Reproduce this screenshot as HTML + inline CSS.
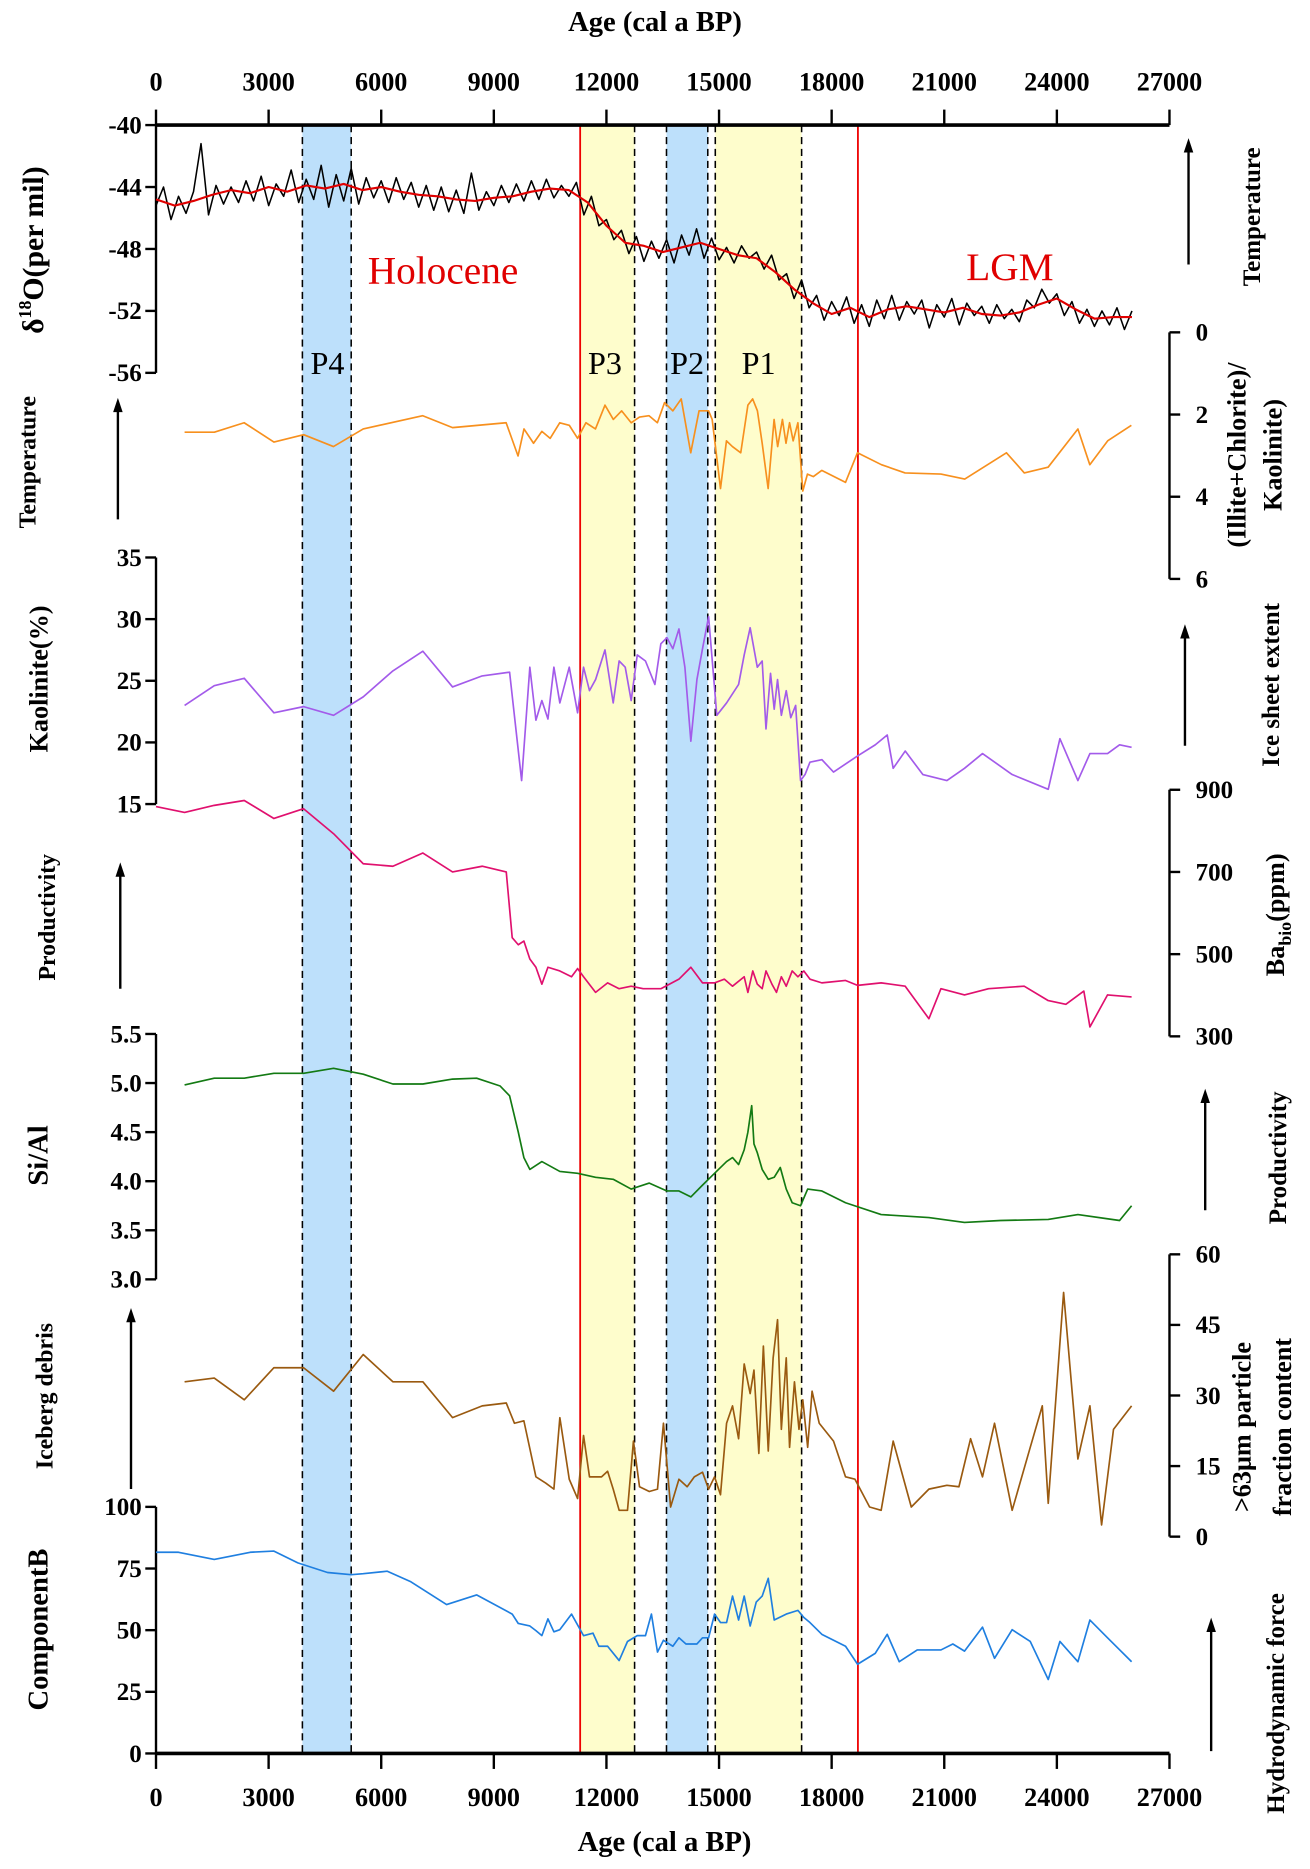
<!DOCTYPE html>
<html><head><meta charset="utf-8"><style>
html,body{margin:0;padding:0;background:#fff;}
svg{display:block;font-family:"Liberation Serif",serif;}
</style></head><body>
<svg id="chart" width="1310" height="1869" viewBox="0 0 1100 1569" preserveAspectRatio="none" xmlns="http://www.w3.org/2000/svg"></svg>
<script>
// ---- data ----
const xTicks=[0,3000,6000,9000,12000,15000,18000,21000,24000,27000];
const d18Ages=[];for(let a=0;a<=26000;a+=200)d18Ages.push(a);
const d18Raw=[-45.2,-44.0,-46.1,-44.6,-45.7,-44.3,-41.2,-45.8,-43.9,-45.1,-44.0,
-45.0,-43.6,-44.9,-43.3,-45.2,-43.8,-44.6,-42.9,-45.0,-43.5,
-44.8,-42.6,-45.3,-43.2,-44.9,-42.8,-45.1,-43.4,-44.7,-43.6,
-45.0,-43.4,-44.8,-43.7,-45.3,-43.9,-45.5,-44.0,-45.6,-44.2,
-45.7,-43.1,-45.5,-44.3,-45.2,-43.9,-45.0,-43.8,-44.9,-43.6,
-44.8,-43.5,-44.7,-43.9,-44.6,-43.7,-45.8,-44.6,-46.5,-46.1,
-47.4,-46.8,-48.3,-47.2,-48.8,-47.5,-48.6,-47.4,-48.9,-47.1,
-48.4,-46.7,-48.6,-47.3,-48.7,-47.9,-48.9,-47.8,-48.6,-48.2,
-49.3,-48.4,-50.0,-49.6,-51.2,-50.0,-51.8,-51.0,-52.6,-51.4,
-52.3,-51.1,-52.8,-51.6,-53.0,-51.3,-52.5,-51.0,-52.6,-51.4,
-52.2,-51.3,-53.1,-51.6,-52.4,-51.2,-52.9,-51.5,-52.3,-51.7,
-52.8,-51.6,-52.5,-51.9,-52.7,-51.3,-51.8,-50.6,-51.5,-50.9,
-52.3,-51.4,-52.8,-51.9,-53.0,-52.0,-52.9,-51.8,-53.2,-52.0];
const smAges=[];for(let a=0;a<=26000;a+=500)smAges.push(a);
const d18Smooth=[-44.8,-45.2,-44.9,-44.5,-44.2,-44.4,-44.0,-44.3,-43.9,-44.1,-43.8,-44.2,-44.0,-44.3,-44.5,-44.6,-44.8,-44.9,-44.7,-44.6,-44.3,-44.1,-44.2,-45.0,-46.5,-47.6,-47.8,-48.2,-47.9,-47.6,-48.0,-48.4,-48.6,-49.5,-50.6,-51.5,-52.2,-51.8,-52.4,-51.9,-51.7,-51.9,-52.1,-51.8,-52.2,-52.3,-52.1,-51.6,-51.2,-51.9,-52.5,-52.4,-52.4];

const icAges=[760,1555,2348,3141,3934,4728,5521,7107,7900,9328,9646,9804,10058,10280,10502,10756,11010,11232,11454,11708,11962,12184,12406,12660,12882,13136,13358,13548,13770,13993,14247,14469,14722,14818,15040,15198,15357,15579,15769,15896,16023,16150,16309,16468,16563,16690,16785,16880,16975,17102,17230,17356,17515,17737,18371,18689,19324,19958,20910,21545,22655,23131,23766,24559,24876,25352,25986];
const icVals=[2.43,2.43,2.2,2.67,2.49,2.78,2.35,2.03,2.32,2.2,3.01,2.35,2.7,2.41,2.58,2.2,2.26,2.58,2.2,2.35,1.77,2.12,1.91,2.2,2.06,2.03,2.2,1.71,1.91,1.62,2.93,1.91,1.91,2.12,3.8,2.64,2.78,2.93,1.77,1.62,1.91,2.7,3.8,2.12,2.78,2.12,2.7,2.2,2.64,2.2,3.86,3.45,3.51,3.36,3.65,2.93,3.22,3.42,3.45,3.57,2.93,3.42,3.28,2.35,3.22,2.64,2.26];

const kaAges=[760,1550,2350,3140,3930,4730,5520,6310,7110,7900,8690,9420,9740,9960,10120,10280,10440,10600,10760,11010,11230,11390,11550,11710,11960,12180,12340,12500,12660,12820,13040,13290,13450,13610,13770,13930,14090,14250,14410,14560,14720,14940,15200,15520,15670,15830,16020,16150,16250,16370,16470,16560,16660,16790,16910,17040,17170,17290,17420,17740,18050,18690,19160,19480,19640,19960,20430,21070,21540,22020,22810,23770,24080,24560,24880,25350,25670,25990];
const kaVals=[23.0,24.6,25.2,22.4,22.9,22.2,23.7,25.8,27.4,24.5,25.4,25.7,16.9,26.1,21.8,23.4,21.9,26.1,23.2,26.1,22.4,26.1,24.2,25.1,27.5,23.2,26.6,26.1,23.4,27.1,26.6,24.7,28.0,28.5,27.6,29.2,26.1,20.1,25.1,27.6,30.2,22.2,23.2,24.7,27.1,29.3,26.1,26.6,21.1,25.6,22.7,25.1,22.2,24.2,22.0,23.0,16.9,17.4,18.4,18.6,17.6,18.9,19.8,20.6,17.9,19.3,17.4,16.9,17.9,19.1,17.4,16.2,20.3,16.9,19.1,19.1,19.8,19.6];

const baAges=[0,760,1550,2350,3140,3930,4730,5520,6310,7110,7900,8690,9330,9490,9650,9800,9960,10120,10280,10440,10760,11070,11230,11390,11710,12030,12340,12660,12980,13450,13930,14250,14560,14880,15140,15360,15670,15770,15900,16020,16150,16250,16410,16530,16660,16790,16950,17100,17260,17420,17740,18370,18690,19320,19960,20590,20910,21540,22180,23130,23770,24240,24720,24880,25350,25990];
const baVals=[859,845,862,874,830,854,793,720,714,746,700,714,700,540,523,532,488,468,427,468,459,445,465,445,407,430,416,422,416,416,439,468,430,430,439,422,445,407,459,427,416,459,427,407,445,422,459,445,459,439,430,436,424,430,422,343,416,401,416,422,387,378,410,323,401,396];

const siAges=[760,1550,2350,3140,3930,4730,5520,6310,7110,7900,8540,9170,9420,9650,9800,9960,10280,10760,11230,11710,12180,12660,13140,13610,13930,14250,14560,14880,15200,15360,15520,15670,15770,15870,15930,16020,16150,16310,16470,16630,16790,16950,17170,17360,17740,18370,19320,20590,21540,22500,23770,24560,25670,25990];
const siVals=[4.98,5.05,5.05,5.1,5.1,5.15,5.09,4.99,4.99,5.04,5.05,4.97,4.87,4.5,4.24,4.12,4.2,4.1,4.08,4.04,4.02,3.92,3.98,3.9,3.9,3.84,3.96,4.08,4.2,4.24,4.17,4.32,4.5,4.77,4.38,4.29,4.12,4.02,4.04,4.14,3.92,3.78,3.75,3.92,3.9,3.78,3.66,3.63,3.58,3.6,3.61,3.66,3.6,3.75];

const grAges=[760,1550,2350,3140,3930,4730,5520,6310,7110,7900,8690,9330,9550,9800,10120,10380,10600,10760,11010,11230,11390,11550,11870,12030,12180,12340,12560,12720,12880,13140,13360,13520,13710,13930,14150,14340,14560,14720,14880,15040,15200,15360,15520,15670,15830,15930,16060,16180,16310,16440,16560,16660,16790,16880,17010,17130,17230,17360,17480,17670,18050,18370,18620,19010,19320,19640,20120,20590,21070,21390,21700,22020,22340,22810,23290,23610,23770,24180,24560,24880,25190,25510,25990];
const grVals=[32.9,33.7,29.1,35.9,35.9,30.9,38.7,32.9,32.9,25.3,27.8,28.4,24.1,24.6,12.7,11.4,10.1,25.3,12.2,8.1,21.5,12.7,12.7,13.9,10.1,5.6,5.6,20.3,10.6,9.6,10.1,24.1,6.3,12.2,10.6,12.7,13.7,10.1,12.7,8.9,24.1,27.8,20.8,36.7,30.4,35.4,17.7,40.5,18.2,38,46.1,22.8,38,19,32.9,22.8,29.1,19,30.9,24.1,20.3,12.7,12.2,6.3,5.6,20.3,6.3,10.1,10.9,10.6,20.8,12.7,24.1,5.6,19,27.8,7.1,51.9,16.5,27.8,2.5,22.8,27.8];

const cbAges=[0,600,1550,2510,3140,3780,4570,5200,5520,6160,6790,7740,8540,9490,9650,9960,10120,10280,10440,10600,10760,11070,11390,11640,11800,12030,12340,12560,12820,13040,13200,13360,13520,13770,13930,14120,14410,14560,14720,14880,15040,15200,15360,15520,15670,15830,15990,16150,16310,16470,16790,17100,17260,17420,17740,18370,18690,19160,19480,19800,20280,20910,21230,21540,22020,22340,22810,23290,23770,24080,24560,24880,25350,25990];
const cbVals=[81.6,81.6,78.7,81.6,82.1,77.3,73.4,72.5,72.9,73.9,69.6,60.4,64.3,56.5,52.7,51.7,49.8,47.8,54.6,49.3,50.2,56.5,47.8,48.8,43.5,43.5,37.7,45.4,47.8,47.8,56.5,41.1,45.9,43.5,46.9,44.4,44.4,46.9,46.9,56.5,53.1,53.1,63.8,54.1,63.8,51.7,61.4,63.8,71,54.1,56.5,58,55.1,53.1,48.3,43.5,36.2,40.6,48.3,37.2,42,42,44.4,41.5,51.2,38.6,50.2,45.4,30,45.4,37.2,54.1,46.9,37.2];

// ---- drawing ----
const NS='http://www.w3.org/2000/svg';
const svg=document.getElementById('chart');
const X0=131,X1=982;
function xs(a){return X0+(a/27000)*(X1-X0);}
function mk(tag,attrs,parent){const e=document.createElementNS(NS,tag);for(const k in attrs)e.setAttribute(k,attrs[k]);(parent||svg).appendChild(e);return e;}
function txt(s,x,y,o){const e=mk('text',Object.assign({x:x,y:y},o||{}));e.textContent=s;return e;}
function yScale(v0,y0,v1,y1){return v=>y0+(v-v0)/(v1-v0)*(y1-y0);}

const bands=[[3900,5200,'#bde0fb','band-p4'],[11300,12750,'#fefdcc','band-p3'],[13600,14700,'#bde0fb','band-p2'],[14900,17200,'#fefdcc','band-p1']];
bands.forEach(b=>{const r=mk('rect',{x:xs(b[0]),y:105,width:xs(b[1])-xs(b[0]),height:1367,fill:b[2]});

});
[3900,5200,12750,13600,14700,14900,17200].forEach(a=>{const l=mk('line',{x1:xs(a),x2:xs(a),y1:105,y2:1472,stroke:'#000','stroke-width':1.3,'stroke-dasharray':'6,4'});

});
[11300,18700].forEach(a=>{const l=mk('line',{x1:xs(a),x2:xs(a),y1:105,y2:1472,stroke:'#e00','stroke-width':1.5});

});

function series(ages,vals,ys,color,name,w){
  let d='';const n=Math.min(ages.length,vals.length);
  for(let i=0;i<n;i++)d+=(i?'L':'M')+xs(ages[i]).toFixed(1)+','+ys(vals[i]).toFixed(1);
  const p=mk('path',{d:d,fill:'none',stroke:color,'stroke-width':w||1.4,'stroke-linejoin':'round'});
  
  
}
function leftAxis(ticks,ys,name,y0,y1,dec){
  const g=mk('g',{});
  
  
  mk('line',{x1:X0,x2:X0,y1:y0,y2:y1,stroke:'#000','stroke-width':2},g);
  ticks.forEach(t=>{const y=ys(t);mk('line',{x1:X0-9,x2:X0,y1:y,y2:y,stroke:'#000','stroke-width':2},g);
    const e=mk('text',{x:X0-12,y:y+7,'text-anchor':'end','font-size':21,'font-weight':'bold'},g);e.textContent=dec?t.toFixed(1):String(t);});
}
function rightAxis(ticks,ys,name,y0,y1){
  const g=mk('g',{});
  
  
  mk('line',{x1:X1,x2:X1,y1:y0,y2:y1,stroke:'#000','stroke-width':2},g);
  ticks.forEach(t=>{const y=ys(t);mk('line',{x1:X1,x2:X1+9,y1:y,y2:y,stroke:'#000','stroke-width':2},g);
    const e=mk('text',{x:X1+22,y:y+7,'font-size':21,'font-weight':'bold'},g);e.textContent=String(t);});
}

const yD=yScale(-40,105,-56,313);
leftAxis([-40,-44,-48,-52,-56],yD,'d18o-axis',105,313);
series(d18Ages,d18Raw,yD,'#000','d18o-raw-line',1.3);
series(smAges,d18Smooth,yD,'#e00000','d18o-smoothed-line',1.8);
const yI=yScale(0,279,6,486);
rightAxis([0,2,4,6],yI,'ratio-axis',279,486);
series(icAges,icVals,yI,'#f7901e','ratio-line');
const yK=yScale(35,468,15,675);
leftAxis([35,30,25,20,15],yK,'kaolinite-axis',468,675);
series(kaAges,kaVals,yK,'#a35bea','kaolinite-line');
const yB=yScale(900,663,300,870);
rightAxis([900,700,500,300],yB,'babio-axis',663,870);
series(baAges,baVals,yB,'#e0106e','babio-line');
const yS=yScale(5.5,868,3.0,1074);
leftAxis([5.5,5.0,4.5,4.0,3.5,3.0],yS,'si-al-axis',868,1074,true);
series(siAges,siVals,yS,'#137a13','si-al-line');
const yG=yScale(60,1053,0,1290);
rightAxis([60,45,30,15,0],yG,'coarse-fraction-axis',1053,1290);
series(grAges,grVals,yG,'#9a5a10','coarse-fraction-line');
const yC=yScale(100,1265,0,1472);
leftAxis([100,75,50,25,0],yC,'componentb-axis',1265,1472);
series(cbAges,cbVals,yC,'#1f7fe0','componentb-line');

function xAxis(y,dir,labY,name){
  const g=mk('g',{});
  
  
  mk('line',{x1:X0,x2:X1,y1:y,y2:y,stroke:'#000','stroke-width':3},g);
  xTicks.forEach(t=>{const x=xs(t);mk('line',{x1:x,x2:x,y1:y,y2:y+dir*13,stroke:'#000','stroke-width':2},g);
    const e=mk('text',{x:x,y:labY,'text-anchor':'middle','font-size':22,'font-weight':'bold'},g);e.textContent=t;});
}
xAxis(105,-1,76,'top-x-axis');
xAxis(1472,1,1516,'bottom-x-axis');
txt('Age (cal a BP)',550,26,{'text-anchor':'middle','font-size':24,'font-weight':'bold',});
txt('Age (cal a BP)',558,1554,{'text-anchor':'middle','font-size':24,'font-weight':'bold',});

txt('Holocene',372,238,{'text-anchor':'middle','font-size':33,fill:'#e00000',});
txt('LGM',848,235,{'text-anchor':'middle','font-size':33,fill:'#e00000',});
[['P4',275],['P3',508],['P2',577],['P1',637]].forEach(p=>{const e=txt(p[0],p[1],314,{'text-anchor':'middle','font-size':27});

});

function rlab(html,x,y,size,rot,name,weight){
  const e=mk('text',{x:0,y:0,transform:`translate(${x},${y}) rotate(${rot})`,'text-anchor':'middle','font-size':size,'font-weight':weight||'bold'});
  e.innerHTML=html;
  
  
}
function arrow(x,yb,yt,name){
  const g=mk('g',{});
  
  
  mk('line',{x1:x,x2:x,y1:yb,y2:yt+10,stroke:'#000','stroke-width':2},g);
  mk('path',{d:`M${x-4},${yt+12}L${x},${yt}L${x+4},${yt+12}Z`,fill:'#000'},g);
}
rlab('δ<tspan font-size="15" dy="-10">18</tspan><tspan dy="10">O(per mil)</tspan>',36,210,25,-90,'d18o-axis-title');
rlab('Temperature',30,388,20,-90,'temperature-left-label');
arrow(99,436,334,'temperature-left-arrow');
rlab('Kaolinite(%)',40,570,22,-90,'kaolinite-axis-title');
rlab('Productivity',46,770,20,-90,'productivity-left-label');
arrow(101,830,724,'productivity-left-arrow');
rlab('Si/Al',40,970,24,-90,'si-al-axis-title');
rlab('Iceberg debris',44,1172,20,-90,'iceberg-debris-label');
arrow(110,1250,1098,'iceberg-debris-arrow');
rlab('ComponentB',40,1368,24,-90,'componentb-axis-title');

rlab('Temperature',1058,182,21,-90,'temperature-right-label');
arrow(998,222,116,'temperature-right-arrow');
rlab('(Illite+Chlorite)/',1046,382,22,-90,'ratio-axis-title-line1');
rlab('Kaolinite)',1076,382,22,-90,'ratio-axis-title-line2');
rlab('Ice sheet extent',1074,575,21,-90,'ice-sheet-extent-label');
arrow(995,626,524,'ice-sheet-extent-arrow');
rlab('Ba<tspan font-size="15" dy="6">bio</tspan><tspan dy="-6">(ppm)</tspan>',1078,768,22,-90,'babio-axis-title');
rlab('Productivity',1080,972,21,-90,'productivity-right-label');
arrow(1012,1016,914,'productivity-right-arrow');
rlab('&gt;63μm particle',1050,1198,22,-90,'coarse-fraction-title-line1');
rlab('fraction content',1084,1198,22,-90,'coarse-fraction-title-line2');
rlab('Hydrodynamic force',1078,1430,21,-90,'hydrodynamic-force-label');
arrow(1017,1470,1358,'hydrodynamic-force-arrow');
</script>
</body></html>
